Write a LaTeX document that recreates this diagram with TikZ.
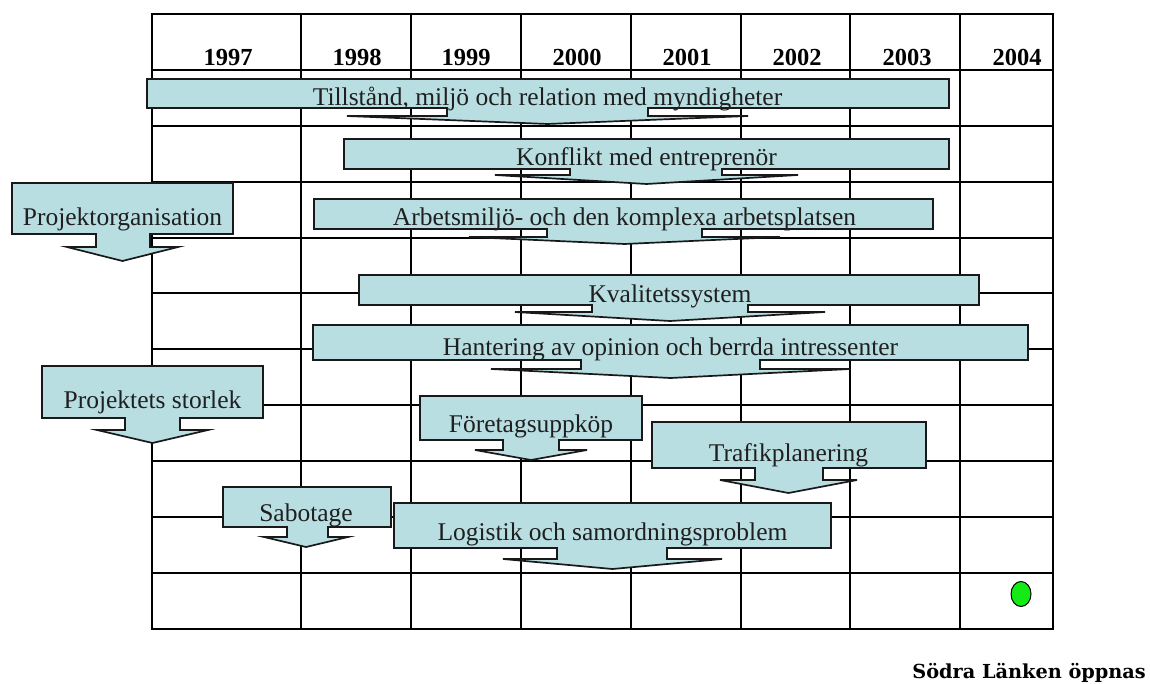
\documentclass[tikz,border=0pt]{standalone}
\usepackage{fontspec}
\setmainfont{Liberation Serif}
\newfontfamily\capsfont{DejaVu Serif}
\usetikzlibrary{shapes.geometric}
\definecolor{boxfill}{RGB}{184,222,226}
\definecolor{dotgreen}{RGB}{20,235,20}
\begin{document}
\begin{tikzpicture}[x=1pt,y=-1pt,
  gridline/.style={line width=2.7pt, black, line cap=rect},
  calloutshape/.style={draw=black!90, line width=1.7pt, fill=boxfill, line join=miter},
  lbl/.style={font=\fontsize{25.5}{30}\selectfont, text=black!88, inner sep=0pt, anchor=base},
  yearlbl/.style={font=\fontsize{24.5}{28}\selectfont\bfseries, inner sep=0pt, anchor=base}]
\useasboundingbox (0,0) rectangle (1150,684);
\fill[white] (0,0) rectangle (1150,684);

% timetable grid
\foreach \yy in {14,70,126,182,238,293,349,405,461,517,573,629}
  \draw[gridline] (152,\yy) -- (1053,\yy);
\foreach \xx in {152,301,411,521,631,741,850,960,1053}
  \draw[gridline] (\xx,14) -- (\xx,629);

% year headings
\foreach \yr/\xx in {1997/228,1998/357,1999/466,2000/577,2001/687,2002/797,2003/907,2004/1017}
  \node[yearlbl] (y\yr) at (\xx,66) {\yr};

% down-arrow callouts: name / box left,right,top,bottom / stem left,right / shoulder y / shoulder left,right / tip y / text
\foreach \nm/\xa/\xb/\ya/\yb/\pa/\pb/\ys/\ha/\hb/\yt/\txt in {
  tillstand/147/949/79/108/447/648/116/347/748/124/{Tillstånd, miljö och relation med myndigheter},
  konflikt/344/949/139/169/570/722/175/495/798/184/{Konflikt med entreprenör},
  arbetsmiljo/314/933/199/229/547/702/237/469/780/244/{Arbetsmiljö- och den komplexa arbetsplatsen},
  projorg/12/233/183/234/96/150/247/67/178/261/{Projektorganisation},
  kvalitet/359/979/275/305/592/748/312/515/825/321/{Kvalitetssystem},
  opinion/313/1028/325/360/581/760/369/491/850/378/{Hantering av opinion och berrda intressenter},
  storlek/42/263/366/418/125/180/430/97/208/443/{Projektets storlek},
  uppkop/420/642/396/440/503/559/450/475/587/460/{Företagsuppköp},
  trafik/652/926/422/468/755/823/480/720/857/493/{Trafikplanering},
  sabotage/223/391/487/527/287/328/537/264/348/547/{Sabotage},
  logistik/394/831/503/548/557/667/559/503/722/569/{Logistik och samordningsproblem}}
{
  \pgfmathsetmacro\tx{(\ha+\hb)/2}
  \pgfmathsetmacro\ty{(\ya+\yt)/2+4}
  \draw[calloutshape] (\xa,\ya) -- (\xb,\ya) -- (\xb,\yb) -- (\pb,\yb) -- (\pb,\ys)
    -- (\hb,\ys) -- (\tx,\yt) -- (\ha,\ys) -- (\pa,\ys) -- (\pa,\yb) -- (\xa,\yb) -- cycle;
  \node[lbl] (\nm) at (\tx,\ty) {\txt};
}

% opening marker
\node[ellipse, draw=black, line width=1pt, fill=dotgreen, minimum width=20pt, minimum height=25pt, inner sep=0pt] (opening) at (1021,594) {};
\node[font=\capsfont\bfseries\fontsize{19.3}{23}\selectfont, inner sep=0pt, anchor=base east] (openinglabel) at (1146,678) {Södra Länken öppnas};
\end{tikzpicture}
\end{document}
